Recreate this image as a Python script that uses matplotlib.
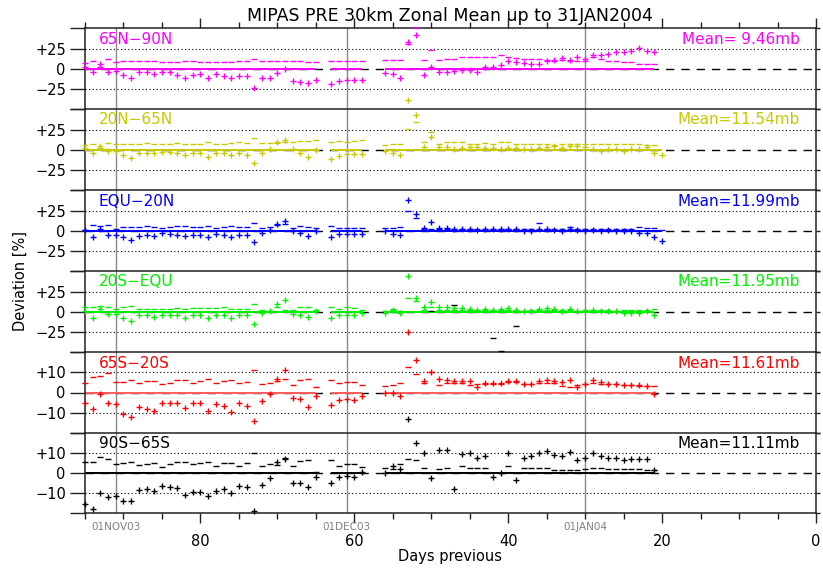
import numpy as np
import matplotlib
matplotlib.use("Agg")
import matplotlib.pyplot as plt
from matplotlib.ticker import MultipleLocator, FixedLocator

plt.rcParams['font.family'] = ['DejaVu Sans']

# ---------------------------------------------------------------- data
# observation days (days before 31 JAN 2004)
days = list(range(95, 64, -1)) + list(range(63, 58, -1)) + list(range(56, 20, -1))
days_ext = days + [20]          # 20N-65N and EQU-20N have one more day

regions = ["65N\u221290N", "20N\u221265N", "EQU\u221220N", "20S\u2212EQU", "65S\u221220S", "90S\u221265S"]
means = ["Mean= 9.46mb", "Mean=11.54mb", "Mean=11.99mb", "Mean=11.95mb", "Mean=11.61mb", "Mean=11.11mb"]

# daily deviation (+) and secondary statistic (-) in percent
plus_65n90n = ([2, -4, 6.5, -3, -2, -7.5, -10.5, -3.5, -4, -6, -3.5, -4, -7.5, -10.5, -7.5, -6.5,
                -11.5, -6.5, -8.5, -11.5, -8.5, -9, -24, -10.5, -10.5, -4.5, 0, -14.5, -16, -17.5, -13.5]
               + [-19, -15, -13, -13.5, -13.5]
               + [-5, -6.5, -10.5, 34, 42, -7.5, 2, -4, -3.5, -2, -1.5, -1.5, -3.5, 2, 3, 5, 10.5, 8.5,
                  7, 6.5, 6.5, 10.5, 11.5, 13.5, 11.5, 15.5, 12.5, 17, 18, 19, 21, 21, 22, 26, 23, 21])
dash_65n90n = ([8, 10.5, 3, 12.5, 8.5, 10, 10, 9.5, 9.5, 10, 9, 9, 8.5, 9.5, 9.5, 9, 8.5, 9, 8.5, 9,
                10, 10, 12.5, 9.5, 9.5, 9.5, 9.5, 9.5, 9.5, 9, 9]
               + [9.5, 9.5, 10.5, 9.5, 9.5]
               + [11.5, 11.5, 11.5, 31, 51, 11.5, 24, 11.5, 12.5, 12.5, 14.5, 15.5, 15.5, 15.5, 15.5,
                  17, 15.5, 13.5, 12.5, 12.5, 12.5, 11.5, 10.5, 11.5, 9.5, 10.5, 10.5, 15, 12.5, 10.5,
                  9.5, 8.5, 8.5, 6.5, 6.5, 6.5])

plus_20n65n = ([3, -3.5, 5.5, -0.5, -1, -6.5, -9.5, -3.5, -3.5, -4, -2.5, -2.5, -3.5, -6.5, -3.5, -3.5,
                -8.5, -3.5, -4, -6.5, -4, -5.5, -16.5, -4, 1.5, 10, 13, 1, -3.5, -8.5, 0]
               + [-10.5, -7.5, -4.5, -4.5, -4.5]
               + [-1, -4, -5.5, 62, 43.5, 3.5, 16.5, 4, 3.5, 1, 2, 3.5, 3.5, 2, 2, 1, 2, 2, 1.5, 1,
                  2, 3.5, 5, 3, 5, 5, 3.5, 1, -1, 1.5, 1, -1, 1, 1, 3.5, -4, -6.5])
dash_20n65n = ([6, 8, 2, 8.5, 8, 8, 8, 8, 8.5, 8, 8, 8, 8.5, 7, 8, 8, 10, 8, 8, 9, 10, 9, 14.5, 9, 9,
                9, 10, 10.5, 11, 11, 12]
               + [10.5, 11, 10.5, 11, 13]
               + [6, 7, 8, 26.5, 34.5, 10, 22, 8, 10, 10, 10, 8, 8, 9, 8, 10, 10, 8, 8, 8, 8, 8, 6,
                  8, 7, 7, 8, 8, 8, 8, 8, 7, 7, 7, 6, 6, np.nan])

plus_equ20n = ([1.5, -7.5, 3, -4.5, -4.5, -7.5, -11.5, -5.5, -4.5, -5.5, -2.5, -3.5, -4.5, -5.5, -4.5,
                -4.5, -7.5, -3.5, -4.5, -7.5, -4.5, -4.5, -13.5, -2.5, 1, 8.5, 12.5, 0, -2.5, -6.5, 0]
               + [-7.5, -4, -4, -4, -4]
               + [0, -3.5, -5, 38, 21.5, 3.5, 11.5, 3.5, 3.5, 2.5, 2.5, 2.5, 1, 2.5, 2, 2.5, 2.5, 2.5,
                  0.5, 0.5, 2.5, 2.5, 1, 0.5, 2.5, 1, 0, 1, 0, 1, 0, 0, 0, -2, -2, -7.5, -12])
dash_equ20n = ([1.5, 7, 6, 7, 3, 5, 5, 5, 6, 5, 4, 5, 6, 6, 5, 5, 6, 4, 5, 6, 5, 5, 10.5, 4, 5, 7, 9,
                4, 6, 5, 4]
               + [6, 4, 4, 4, 4]
               + [3.5, 3.5, 4.5, 25, 16.5, 3, 3, 3, 3, 2.5, 2.5, 2.5, 2.5, 2.5, 2.5, 2.5, 2.5, 2.5,
                  2.5, 3, 9.5, 2.5, 2.5, 2.5, 4.5, 2.5, 2.5, 2.5, 2.5, 2.5, 2, 2, 2, 4.5, 3.5, 3.5, 1])

plus_20sequ = ([1.5, -7.5, 4, -2.5, -2.5, -7.5, -10.5, -4, -4, -5.5, -3.5, -3.5, -3.5, -7, -3.5, -4,
                -7.5, -3.5, -4, -7.5, -4, -4, -15, -0.5, 1.5, 10, 14.5, -2.5, -3.5, -6.5, 1]
               + [-7.5, -3.5, -3.5, -3.5, -0.5]
               + [-1, 2, -1.5, 45, 18, 6.5, 12.5, 6.5, 6.5, 5, 5, 4, 3, 4, 3, 4, 5, 3, 1.5, 1.5, 4,
                  4.5, 4, 1.5, 4, 1.5, 1.5, 3, 1, 1.5, 1.5, -0.5, -0.5, -0.5, 1, -3.5])
dash_20sequ = ([6, 6.5, 7, 6.5, 4, 6.5, 7, 4, 4, 4, 4, 4, 5, 4, 5, 5, 5, 5, 6.5, 4, 4, 4, 10, 2, 1.5,
                6, 3, 3, 6, 6.5, 3]
               + [6, 4, 6, 5, 2]
               + [1.5, 4, 1, 18, 13.5, 3, 6, 3, 3, 3, 3, 2, 2, 2, 2, 2, 3, 2, 1.5, 3, 3, 3, 3, 3, 3,
                  1.5, 3, 3, 3, 3, 1.5, 2, 2, 2, 3, 4])

plus_65s20s = ([-5, -8, -0.5, -5, -5.5, -10.5, -12, -7, -8, -9, -5, -5, -5, -7.5, -5, -5, -9, -5.5,
                -6.5, -9.5, -5, -6.5, -14, -4, -0.5, 6.5, 11, -2.5, -3, -7, -1.5]
               + [-6, -3.5, -3, -3.5, -1.5]
               + [0, 0, -1.5, 30, 16, 5.5, 10, 6.5, 6, 5.5, 5.5, 5.5, 2.5, 4.5, 4.5, 4.5, 5.5, 5.5,
                  4, 4, 5.5, 6, 5.5, 5, 6, 2.5, 4, 6, 5, 4, 4, 3.5, 3.5, 3.5, 3, -0.5])
dash_65s20s = ([4.5, 7.5, 8, 9.5, 5, 5, 6, 4.5, 5.5, 5.5, 4, 4.5, 6, 6, 4.5, 5.5, 6.5, 4.5, 5.5, 6,
                4.5, 5, 11, 4, 4.5, 5.5, 6.5, 3.5, 6, 6.5, 2.5]
               + [6, 4.5, 5, 5, 3.5]
               + [3, 3.5, 4.5, 12.5, 9, 4.5, 10, 3.5, 4.5, 4.5, 4.5, 3.5, 4, 4, 4, 4, 5, 5, 4, 4,
                  4.5, 4.5, 4.5, 3, 2.5, 3.5, 4, 4.5, 4, 4, 4, 3.5, 3.5, 3, 3, 3])

plus_90s65s = ([-15.5, -18, -10, -12, -11.5, -14, -14, -8.5, -8, -9, -6.5, -7, -7.5, -11, -9.5, -9.5,
                -11.5, -9, -8, -10, -6.5, -7, -19, -6, -2.5, 5.5, 7, -5, -5, -7, -2]
               + [-5, -2, -1.5, -2, 0.5]
               + [0, 3.5, 2, 27, 15, 10, -2.5, 11.5, 11.5, -8, 9.5, 10, 7.5, 8.5, -2, 0, 10, -3.5,
                  7.5, 8.5, 10, 11, 9, 8.5, 10.5, 6.5, 7.5, 10, 8.5, 7.5, 7.5, 6.5, 7, 7, 7, 1.5])
dash_90s65s = ([5.5, 5.5, 8, 7, 4.5, 5, 5.5, 4, 4.5, 5, 3, 4.5, 5.5, 5.5, 4.5, 5, 5.5, 3.5, 5, 5,
                3.5, 5, 10, 3.5, 4.5, 4, 7.5, 3.5, 6, 6.5, 0.5]
               + [6.5, 3.5, 4.5, 4.5, 3]
               + [2.5, 2, 4.5, 7, 6.5, 2.5, 81, 2, 2.5, 84, 3.5, 2.5, 2.5, 2.5, 67.5, 61, 3.5, 73.5,
                  2.5, 2.5, 2.5, 2.5, 1.5, 1.5, 1.5, 1.5, 2, 2.5, 2.5, 2, 2, 2, 2, 2, 1.5, 1.5])

month_days = [91, 61, 30]
month_labels = ["01NOV03", "01DEC03", "01JAN04"]

# ---------------------------------------------------------------- styling
colors = ["#ff00ff", "#c8c800", "#0000ff", "#00f000", "#ff0000", "#000000"]
line_colors = ["#ff00ff", "#c8c800", "#0000ff", "#00f000", "#ff5a5a", "#000000"]
panels = [
    (days, plus_65n90n, dash_65n90n, 25),
    (days_ext, plus_20n65n, dash_20n65n, 25),
    (days_ext, plus_equ20n, dash_equ20n, 25),
    (days, plus_20sequ, dash_20sequ, 25),
    (days, plus_65s20s, dash_65s20s, 10),
    (days, plus_90s65s, dash_90s65s, 10),
]

W, H = 823, 568
fig = plt.figure(figsize=(W / 100, H / 100), dpi=100)
x0, x1 = 85, 816
edges = [28, 109, 190, 271, 352, 433, 513]

PT = 0.72  # points per pixel at 100 dpi
axes = []
for i, (d, pv, dv, g) in enumerate(panels):
    top, bot = edges[i], edges[i + 1]
    ax = fig.add_axes([x0 / W, 1 - bot / H, (x1 - x0) / W, (bot - top) / H])
    axes.append(ax)
    lo, hi = (-49.5, 51) if g == 25 else (-20, 20)
    ax.set_xlim(95, 0)
    ax.set_ylim(lo, hi)

    for s in ax.spines.values():
        s.set_linewidth(1.1)
        s.set_color("#222222")
    if i < len(panels) - 1:
        ax.spines["bottom"].set_visible(False)

    # month separators
    for md in month_days:
        ax.axvline(md, color="#8a8a8a", lw=1.0, zorder=1)

    # dotted reference levels
    for lv in (-g, g):
        ax.axhline(lv, color="black", lw=0.8, ls=(0, (1, 2.2)), zorder=1)

    # zero line: dashed overall, solid colour where data exist
    ax.axhline(0, color="black", lw=1.0, dashes=(6, 5), zorder=1)
    d_arr = np.asarray(d)
    breaks = np.where(np.abs(np.diff(d_arr)) > 1)[0] + 1
    for run in np.split(d_arr, breaks):
        ax.plot(run, np.zeros(len(run)), color=line_colors[i], lw=1.4, zorder=2, solid_capstyle="butt")

    ax.plot(d, dv, ls="none", marker="_", ms=3.8, mew=1.0, color=colors[i], clip_on=False, zorder=3)
    ax.plot(d, pv, ls="none", marker="+", ms=3.8, mew=1.0, color=colors[i], clip_on=False, zorder=4)

    # y ticks: left (long) and right (short)
    ax.yaxis.set_major_locator(FixedLocator([-g, 0, g]))
    ax.set_yticklabels(["\u2212%d" % g, "0", "+%d" % g])
    ax.yaxis.set_minor_locator(FixedLocator([lo, hi]))
    ax.tick_params(axis="y", which="both", direction="out", length=15 * PT, width=1.0,
                   labelsize=10.5, pad=3, left=True, right=False, color="#222222")
    axr = ax.twinx()
    axr.set_ylim(lo, hi)
    axr.yaxis.set_major_locator(FixedLocator([-g, 0, g]))
    axr.yaxis.set_minor_locator(FixedLocator([lo, hi]))
    axr.tick_params(axis="y", which="both", direction="out", length=4 * PT, width=1.0,
                    labelright=False, color="#222222")
    for s in axr.spines.values():
        s.set_visible(False)

    # x ticks only on the outer frame
    ax.xaxis.set_major_locator(MultipleLocator(20))
    ax.xaxis.set_minor_locator(MultipleLocator(5))
    ax.tick_params(axis="x", which="major", direction="out", length=10 * PT, width=1.0, color="#222222")
    ax.tick_params(axis="x", which="minor", direction="out", length=6 * PT, width=1.0, color="#222222")
    show_top = i == 0
    show_bot = i == len(panels) - 1
    ax.tick_params(axis="x", which="both", top=show_top, bottom=show_bot,
                   labeltop=False, labelbottom=show_bot)
    if show_bot:
        ax.tick_params(axis="x", which="major", labelsize=10.5, pad=8)
        ax.set_xticklabels(["%d" % v for v in ax.get_xticks()])

    ax.annotate(regions[i], xy=(0, 1), xycoords="axes fraction", xytext=(14 * PT, -11 * PT),
                textcoords="offset points", ha="left", va="center", fontsize=11, color=colors[i])
    ax.annotate(means[i], xy=(1, 1), xycoords="axes fraction", xytext=(-16 * PT, -11 * PT),
                textcoords="offset points", ha="right", va="center", fontsize=11, color=colors[i])

bottom_ax = axes[-1]
for md, lab in zip(month_days, month_labels):
    bottom_ax.annotate(lab, xy=(md, 0), xycoords=("data", "axes fraction"), xytext=(0, -13.5 * PT),
                       textcoords="offset points", ha="center", va="center", fontsize=7.5,
                       color="#808080")

fig.text(450 / W, 1 - 16 / H, "MIPAS PRE 30km Zonal Mean up to 31JAN2004", ha="center", va="center",
         fontsize=12.5)
fig.text(450 / W, 1 - 557 / H, "Days previous", ha="center", va="center", fontsize=10.5)
fig.text(20 / W, 1 - 281 / H, "Deviation [%]", ha="center", va="center", rotation=90, fontsize=10.5)

fig.savefig("out.png", dpi=100)
